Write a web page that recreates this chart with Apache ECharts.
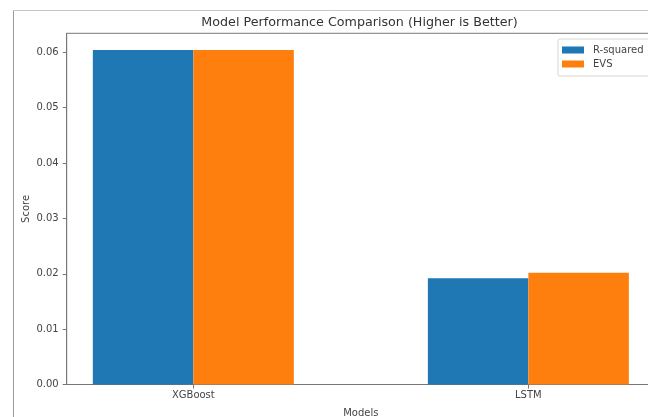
<!DOCTYPE html>
<html>
<head>
<meta charset="utf-8">
<script src="https://cdn.jsdelivr.net/npm/echarts@6/dist/echarts.min.js"></script>
<style>
html,body{margin:0;padding:0;background:#fff;}
#chart{width:648px;height:417px;}
</style>
</head>
<body>
<div id="chart"></div>
<script>
// ---- data ----
const categories = ['XGBoost', 'LSTM'];
const categoryPositions = [0, 1];
const rSquared = [0.0604, 0.0192];
const evs = [0.0604, 0.0202];
const yTicks = [0, 0.01, 0.02, 0.03, 0.04, 0.05, 0.06];
const seriesNames = ['R-squared', 'EVS'];
const titleText = 'Model Performance Comparison (Higher is Better)';
const xName = 'Models';
const yName = 'Score';

const FONT = 'DejaVu Sans';
const chart = echarts.init(document.getElementById('chart'), null, {renderer: 'canvas'});

const option = {
  backgroundColor: '#ffffff',
  animation: false,
  textStyle: {fontFamily: FONT},
  grid: {
    left: 66.7, top: 33.3, width: 588.3, height: 351.2,
    containLabel: false, outerBoundsMode: 'none',
    show: true, borderColor: '#777', borderWidth: 1, backgroundColor: 'transparent'
  },
  legend: {
    orient: 'vertical',
    left: 558, top: 39,
    padding: [5, 14, 6, 4],
    itemWidth: 22, itemHeight: 7, itemGap: 2,
    icon: 'rect',
    borderColor: '#d6d6d6', borderWidth: 1, borderRadius: 2,
    backgroundColor: '#fff',
    textStyle: {fontFamily: FONT, fontSize: 10, color: '#444', lineHeight: 12, padding: [0, 0, 0, 4]},
    data: seriesNames
  },
  xAxis: {
    type: 'value',
    min: -0.378, max: 1.378,
    name: xName, nameLocation: 'middle', nameGap: 23.5, nameMoveOverlap: false,
    nameTextStyle: {fontFamily: FONT, fontSize: 10, color: '#444'},
    axisLine: {show: true, onZero: false, lineStyle: {color: '#777', width: 1}},
    axisTick: {show: true, length: 4, customValues: categoryPositions, lineStyle: {color: '#777'}},
    axisLabel: {
      customValues: categoryPositions, margin: 6,
      fontFamily: FONT, fontSize: 10, color: '#444',
      formatter: v => categories[Math.round(v)] || ''
    },
    splitLine: {show: false}
  },
  yAxis: {
    type: 'value',
    min: 0, max: 0.06343, interval: 0.01,
    name: yName, nameLocation: 'middle', nameGap: 35, nameRotate: 90, nameMoveOverlap: false,
    nameTextStyle: {fontFamily: FONT, fontSize: 10, color: '#444'},
    axisLine: {show: true, onZero: false, lineStyle: {color: '#777', width: 1}},
    axisTick: {show: true, length: 4, customValues: yTicks, lineStyle: {color: '#777'}},
    axisLabel: {
      customValues: yTicks, margin: 8,
      fontFamily: FONT, fontSize: 10, color: '#444',
      formatter: v => v.toFixed(2)
    },
    splitLine: {show: false}
  },
  series: [
    {
      name: seriesNames[0], type: 'bar',
      barWidth: 100.5, barGap: '0%',
      itemStyle: {color: '#1f77b4'},
      data: categoryPositions.map((x, i) => [x, rSquared[i]])
    },
    {
      name: seriesNames[1], type: 'bar',
      barWidth: 100.5, barGap: '0%',
      itemStyle: {color: '#ff7f0e'},
      data: categoryPositions.map((x, i) => [x, evs[i]])
    }
  ],
  graphic: [
    {type: 'line', shape: {x1: 13.5, y1: 10.5, x2: 13.5, y2: 417}, style: {stroke: '#999', lineWidth: 1}, z: 100},
    {type: 'line', shape: {x1: 13.5, y1: 10.5, x2: 648, y2: 10.5}, style: {stroke: '#c4c4c4', lineWidth: 1}, z: 100},
    {type: 'text', x: 359.5, y: 23, style: {text: titleText, fontFamily: FONT, fontSize: 12.7, fill: '#333', align: 'center', verticalAlign: 'middle'}, z: 100}
  ]
};
chart.setOption(option);
</script>
</body>
</html>
